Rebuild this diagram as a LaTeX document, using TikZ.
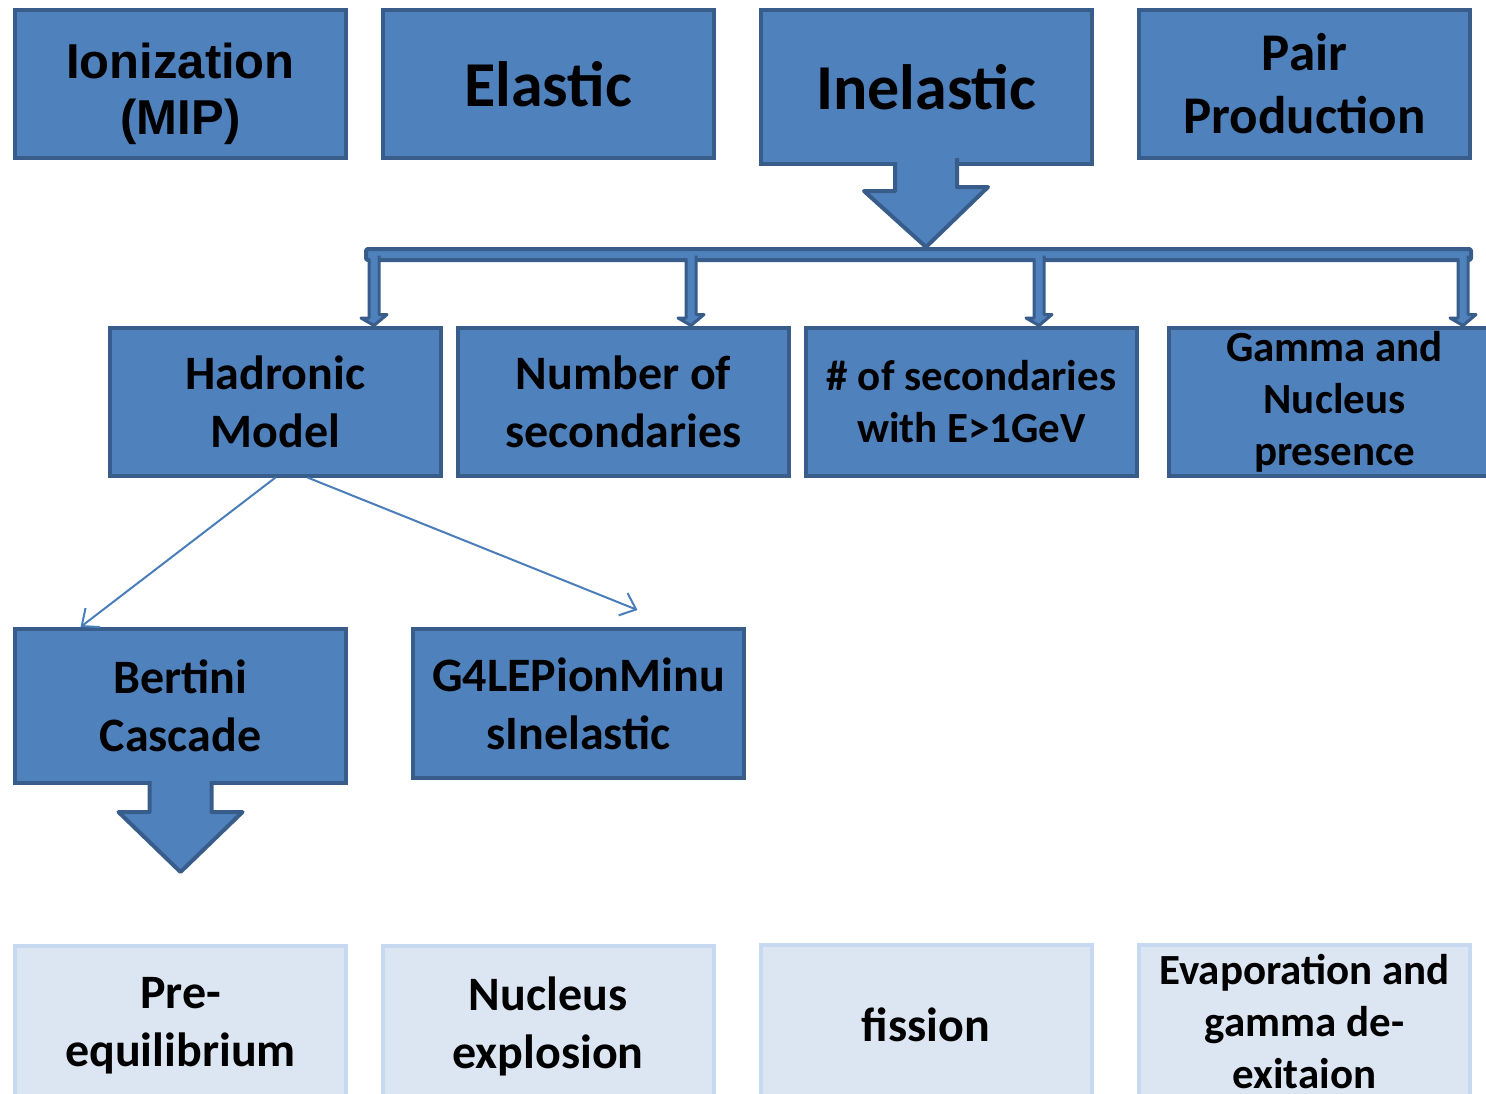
\documentclass[tikz,border=0pt]{standalone}
\usepackage{fontspec}
\setmainfont{Carlito}
\newfontfamily\arialfont{Liberation Sans}
\usetikzlibrary{calc,arrows.meta}

\definecolor{boxblue}{HTML}{4F81BD}
\definecolor{edgeblue}{HTML}{385D8A}
\definecolor{paleblue}{HTML}{DCE6F2}
\definecolor{paleedge}{HTML}{C6D9F1}
\definecolor{lineblue}{HTML}{4A7EBB}

\tikzset{
  box/.style={draw=edgeblue,fill=boxblue,line width=2pt,inner sep=0pt,
    minimum width=165.5pt,minimum height=74pt,align=center,
    font=\bfseries\fontsize{24}{29}\selectfont},
  smalltext/.style={font=\bfseries\fontsize{21.5}{26}\selectfont},
  toptext/.style={font=\bfseries\fontsize{26.5}{31.5}\selectfont},
  bigtext/.style={font=\bfseries\fontsize{32}{38}\selectfont},
  ariallabel/.style={align=center,yshift=-5pt,font=\arialfont\bfseries\fontsize{24.5}{28}\selectfont},
  pale/.style={box,draw=paleedge,fill=paleblue,minimum height=80pt},
  fat/.style={draw=edgeblue,fill=boxblue,line width=2pt,line join=round},
  link/.style={draw=lineblue,line width=1pt,-{Straight Barb[length=7pt,width=12pt]}}
}

\begin{document}
\begin{tikzpicture}[x=0.5pt,y=-0.5pt]
\useasboundingbox (0,0) rectangle (1486,1093);

% top row
\node[box,label={[ariallabel]center:Ionization\\(MIP)}] (ion) at (180.5,84) {};
\node[box,bigtext] (ela) at (548,84) {Elastic};
\node[box,bigtext,minimum height=77pt] (inel) at (926,87) {Inelastic};
\node[box,toptext] (pair) at (1304.5,84) {Pair\\Production};

% bar
\node[fat,inner sep=0pt,minimum width=552.5pt,minimum height=5.5pt,rounded corners=1pt] (bar) at (918.5,254.5) {};
\filldraw[fat] ($(inel.south)+(-31,-4)$) -- ++(0,29) -- ++(-31,0) -- (inel.south |- bar.north)
  -- ++(62,-60) -- ++(-31,0) -- ++(0,-29);

% second row
\node[box] (hadr) at (275.5,401.5) {Hadronic\\Model};
\node[box] (nsec) at (623.5,401.5) {Number of\\secondaries};
\node[box,smalltext] (hsec) at (971.5,401.5) {\# of secondaries\\with E>1GeV};
\node[box,smalltext] (gam) at (1334.5,401.5) {Gamma and\\Nucleus\\presence};

\foreach \x/\t in {374/hadr,691/nsec,1039/hsec,1463/gam}{
  \coordinate (c) at (\x,0);
  \filldraw[fat,line width=1.5pt] ($(bar.south -| c)+(-5,-3)$) -- ++(0,59) -- ++(-8,0)
    -- (\t.north -| c) -- ++(13,-11) -- ++(-8,0) -- ++(0,-59);
}

% third row
\node[box,minimum height=77pt] (bert) at (180.5,706) {Bertini\\Cascade};
\node[box,minimum height=74.5pt] (g4) at (578.5,703.5) {G4LEPionMinu\\sInelastic};

\draw[link] (hadr.south) -- ($(bert.north)+(-100,0)$);
\draw[link] ($(hadr.south)+(32,0)$) -- ($(g4.north)+(59,-17)$);

\filldraw[fat] ($(bert.south)+(-31,-4)$) -- ++(0,31) -- ++(-31,0) -- ++(62,60)
  -- ++(62,-60) -- ++(-31,0) -- ++(0,-31);

% bottom row
\node[pale] (pre) at (180.5,1026) {Pre-\\equilibrium};
\node[pale] (expl) at (548,1026) {Nucleus\\explosion};
\node[pale] (fis) at (926,1025) {fission};
\node[pale,smalltext,minimum height=77pt] (evap) at (1304.5,1022) {Evaporation and\\gamma de-\\exitaion};
\end{tikzpicture}
\end{document}
